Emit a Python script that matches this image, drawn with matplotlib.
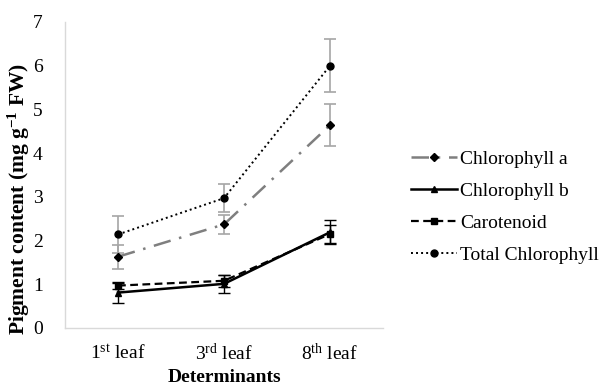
import matplotlib.pyplot as plt
import numpy as np

# --- data -----------------------------------------------
leaves = ['1$^{\\rm st}$ leaf', '3$^{\\rm rd}$ leaf', '8$^{\\rm th}$ leaf']

chl_a = [1.63, 2.37, 4.64]
chl_a_err = [0.28, 0.21, 0.48]
chl_b = [0.81, 1.01, 2.19]
chl_b_err = [0.23, 0.20, 0.27]
carot = [0.97, 1.08, 2.15]
carot_err = [0.08, 0.14, 0.20]
total = [2.14, 2.97, 6.00]
total_err = [0.43, 0.32, 0.60]

# --- style ----------------------------------------------
plt.rcParams['font.family'] = ['Liberation Serif', 'DejaVu Serif']
plt.rcParams['mathtext.fontset'] = 'custom'
plt.rcParams['mathtext.rm'] = 'Liberation Serif'
plt.rcParams['mathtext.it'] = 'Liberation Serif:italic'
plt.rcParams['mathtext.bf'] = 'Liberation Serif:bold'

fig = plt.figure(figsize=(6.03, 3.88), dpi=100)
ax = fig.add_axes([65 / 603, 1 - 328 / 388, 318 / 603, (328 - 22) / 388])

x = np.arange(len(leaves)) + 0.5
grey_err = '#a6a6a6'

e1 = ax.errorbar(x, chl_a, yerr=chl_a_err, color='#7f7f7f', ecolor=grey_err, elinewidth=1.2,
                 capsize=4, capthick=1.2, lw=1.8, dashes=(7, 3.5, 1, 3.5), marker='D', ms=4.5,
                 mfc='black', mec='black', zorder=3)
e2 = ax.errorbar(x, chl_b, yerr=chl_b_err, color='black', ecolor='black', elinewidth=1,
                 capsize=4, capthick=1, lw=1.8, ls='-', marker='^', ms=4, zorder=4)
e3 = ax.errorbar(x, carot, yerr=carot_err, color='black', ecolor='black', elinewidth=1,
                 capsize=4, capthick=1, lw=1.6, dashes=(3.5, 2), marker='s', ms=4.5, zorder=4)
e4 = ax.errorbar(x, total, yerr=total_err, color='black', ecolor=grey_err, elinewidth=1.2,
                 capsize=4, capthick=1.2, lw=1.4, dashes=(1, 1.6), marker='o', ms=5, zorder=3)

ax.set_xlim(0, 3)
ax.set_ylim(0, 7)
ax.set_yticks(range(0, 8))
ax.set_xticks(x)
ax.set_xticklabels(leaves)
ax.tick_params(length=0, labelsize=14, colors='black')
ax.tick_params(axis='y', pad=16)
ax.tick_params(axis='x', pad=11)

for s in ['top', 'right']:
    ax.spines[s].set_visible(False)
for s in ['left', 'bottom']:
    ax.spines[s].set_color('#d9d9d9')
    ax.spines[s].set_linewidth(1)

# y label placed on the figure (it sits lower than the axes centre in the original)
fig.text(19 / 603, 1 - 199 / 388, 'Pigment content (mg g$^{\\mathbf{-1}}$ FW)', rotation=90,
         ha='center', va='center', fontsize=15.5, fontweight='bold')
ax.set_xlabel('Determinants', fontsize=14, fontweight='bold', labelpad=3)

handles = [e1[0], e2[0], e3[0], e4[0]]
labels = ['Chlorophyll a', 'Chlorophyll b', 'Carotenoid', 'Total Chlorophyll']
fig.legend(handles, labels, loc='center left', bbox_to_anchor=(403 / 603, 1 - 207 / 388),
           frameon=False, fontsize=14, handlelength=2.4, handletextpad=0.15,
           labelspacing=0.75, borderaxespad=0)

fig.savefig('out.png', dpi=100)
